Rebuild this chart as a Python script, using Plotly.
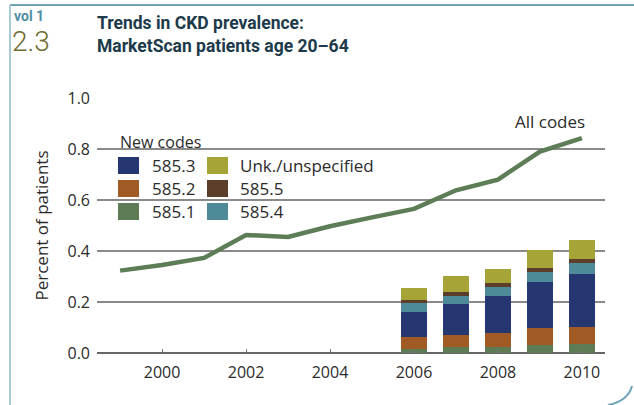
import plotly.graph_objects as go

# data
line_years = [1999, 2000, 2001, 2002, 2003, 2004, 2005, 2006, 2007, 2008, 2009, 2010]
all_codes = [0.323, 0.345, 0.373, 0.463, 0.455, 0.497, 0.532, 0.565, 0.638, 0.680, 0.790, 0.843]

bar_years = [2006, 2007, 2008, 2009, 2010]
code_5851 = [0.015, 0.024, 0.024, 0.031, 0.035]
code_5852 = [0.048, 0.047, 0.054, 0.067, 0.067]
code_5853 = [0.098, 0.121, 0.146, 0.180, 0.208]
code_5854 = [0.035, 0.032, 0.035, 0.040, 0.043]
code_5855 = [0.012, 0.015, 0.016, 0.015, 0.015]
code_unk = [0.047, 0.063, 0.054, 0.071, 0.075]

series = [
    ("585.1", code_5851, "#5d7b55"),
    ("585.2", code_5852, "#a05a24"),
    ("585.3", code_5853, "#253670"),
    ("585.4", code_5854, "#4f8a98"),
    ("585.5", code_5855, "#5b3f2b"),
    ("Unk./unspecified", code_unk, "#a6a436"),
]

# legend layout (two columns, as in the print figure)
legend_cols = [["585.3", "585.2", "585.1"], ["Unk./unspecified", "585.5", "585.4"]]

W, H = 634, 405
L, R, T, B = 97, 605, 98, 353
FONT = "Open Sans, Noto Sans, sans-serif"
HEAD_FONT = "Roboto, Liberation Sans, sans-serif"


def px(x):
    return (x - L) / (R - L)


def py(y):
    return (B - y) / (B - T)


fig = go.Figure()

for name, vals, col in series:
    fig.add_trace(go.Bar(x=bar_years, y=vals, name=name, marker=dict(color=col, line=dict(width=0)),
                         width=0.62))

fig.add_trace(go.Scatter(x=line_years, y=all_codes, mode="lines", name="All codes",
                         line=dict(color="#5c7d56", width=4.5)))

# white box behind the legend hides the grid lines
fig.add_shape(type="rect", xref="paper", yref="paper", x0=px(97), x1=px(205), y0=py(153), y1=py(136),
              fillcolor="white", line_width=0, layer="between")
fig.add_shape(type="rect", xref="paper", yref="paper", x0=px(97), x1=px(370), y0=py(226), y1=py(153),
              fillcolor="white", line_width=0, layer="between")

colors = {n: c for n, _, c in series}
fig.add_annotation(text="New codes", xref="paper", yref="paper", x=px(118), y=py(142),
                   xanchor="left", yanchor="middle", showarrow=False,
                   font=dict(family=FONT, size=16, color="#2b2b2b"))
for ci, col_names in enumerate(legend_cols):
    sx = [118, 207][ci]
    tx = [150, 238][ci]
    for ri, n in enumerate(col_names):
        cy = 165.5 + ri * 23
        fig.add_shape(type="rect", xref="paper", yref="paper", x0=px(sx), x1=px(sx + 21),
                      y0=py(cy + 8.5), y1=py(cy - 8.5), fillcolor=colors[n], line_width=0)
        fig.add_annotation(text=n, xref="paper", yref="paper", x=px(tx), y=py(cy),
                           xanchor="left", yanchor="middle", showarrow=False,
                           font=dict(family=FONT, size=17, color="#2b2b2b"))

fig.add_annotation(text="All codes", x=2009.24, y=0.906, showarrow=False,
                   font=dict(family=FONT, size=17, color="#2b2b2b"))

# y axis title
fig.add_annotation(text="Percent of patients", xref="paper", yref="paper", x=px(41), y=0.5,
                   xanchor="center", yanchor="middle",
                   textangle=-90, showarrow=False, font=dict(family=FONT, size=17, color="#2b2b2b"))

# heading
fig.add_annotation(text="<b>Trends in CKD prevalence:<br>MarketScan patients age 20\u201364</b>",
                   xref="paper", yref="paper", x=px(95), y=py(11), xanchor="left", yanchor="top",
                   align="left", showarrow=False,
                   font=dict(family=HEAD_FONT, size=17.5, color="#1c3a4a"))
fig.add_annotation(text="<b>vol 1</b>", xref="paper", yref="paper", x=px(13), y=py(16),
                   xanchor="left", yanchor="middle", showarrow=False, borderpad=0,
                   font=dict(family=HEAD_FONT, size=14, color="#4f8fa3"))
fig.add_annotation(text="2.3", xref="paper", yref="paper", x=px(11), y=py(42),
                   xanchor="left", yanchor="middle", showarrow=False, borderpad=0,
                   font=dict(family=HEAD_FONT, size=28, color="#6e6b2d", weight=300))

# page frame
fig.add_shape(type="line", xref="paper", yref="paper", x0=px(10), x1=px(634), y0=py(5), y1=py(5),
              line=dict(color="#6fa3b8", width=2))
fig.add_shape(type="line", xref="paper", yref="paper", x0=px(10), x1=px(10), y0=py(5), y1=py(405),
              line=dict(color="#a9c9d6", width=2))
fig.add_shape(type="path", xref="paper", yref="paper",
              path=f"M {px(632)} {py(386)} Q {px(628)} {py(401)} {px(608)} {py(405)}",
              line=dict(color="#6fa3b8", width=2))

fig.update_layout(
    width=W, height=H,
    margin=dict(l=L, r=W - R, t=T, b=H - B),
    barmode="stack",
    showlegend=False,
    plot_bgcolor="white",
    paper_bgcolor="white",
    font=dict(family=FONT, size=16, color="#2b2b2b"),
)
fig.update_xaxes(range=[1998.45, 2010.55], tickmode="array", tickvals=[2000, 2002, 2004, 2006, 2008, 2010],
                 ticks="inside", ticklen=4, tickcolor="#777", showgrid=False, showline=False,
                 zeroline=False, ticklabelstandoff=8, tickfont=dict(size=16))
fig.update_yaxes(range=[0, 1.0], tickmode="array", tickvals=[0, 0.2, 0.4, 0.6, 0.8, 1.0],
                 tickformat=".1f", showgrid=True, gridcolor="#8a8a8a", gridwidth=1.5,
                 zeroline=True, zerolinecolor="#666", zerolinewidth=2, showline=False,
                 ticklabelstandoff=6, tickfont=dict(size=16))

fig.write_html("out.html", config={"displayModeBar": False},
               post_script="document.body.style.margin='0px';")
